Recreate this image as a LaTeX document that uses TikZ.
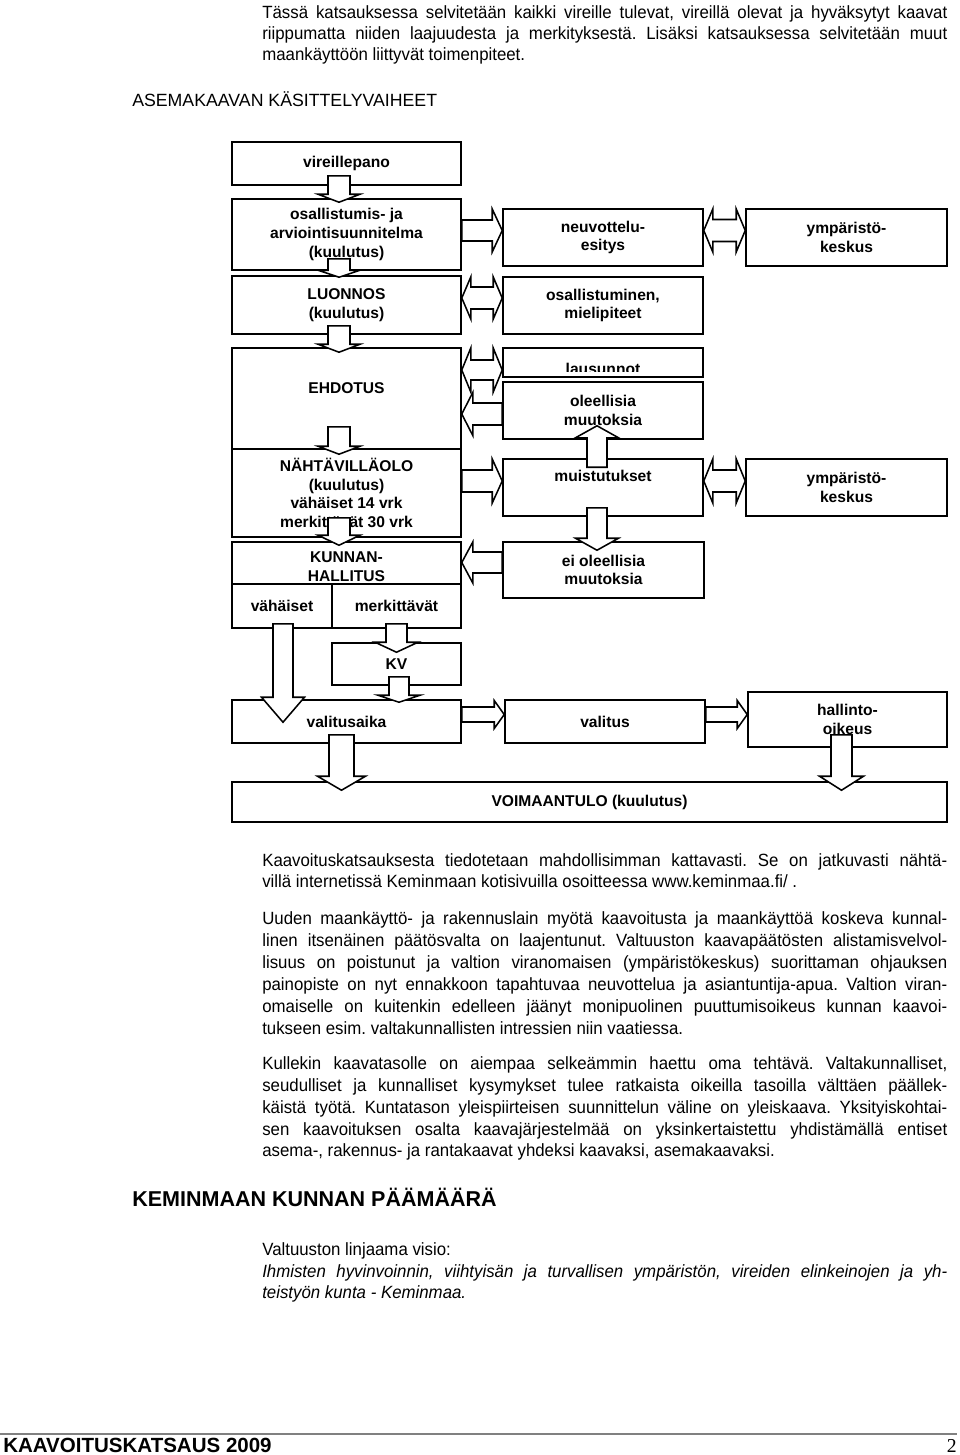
\documentclass[tikz,border=0pt]{standalone}
\usepackage{fontspec}
\setmainfont{Liberation Sans}
\newfontfamily\bodyfont[FakeStretch=0.95]{Liberation Sans}
\newfontfamily\numfont{Liberation Serif}
\usepackage{tikz}
\usetikzlibrary{positioning}
\usetikzlibrary{calc}

% 1 unit = 1 px of the page image
\def\pxu{0.711319}
% chart box: x1, y1, x2, y2, name, text
\newcommand{\chartbox}[6]{%
  \node[box, minimum width={(#3-#1)*0.25mm}, minimum height={(#4-#2)*0.25mm}]
    (#5) at ({(#1+#3)/2},{(#2+#4)/2}) {#6};}
% block arrow: start, tip, shaft half width, head half width, head length
\newcommand{\blockarrow}[5]{%
  \draw[blk] let \p1=#1, \p2=#2,
      \n1={veclen(\x2-\x1,\y2-\y1)},
      \n2={(\x2-\x1)/\n1}, \n3={(\y2-\y1)/\n1},
      \n4={#3*\pxu}, \n5={#4*\pxu}, \n6={#5*\pxu} in
    ({\x1-\n3*\n4},{\y1+\n2*\n4})
    -- ({\x2-\n2*\n6-\n3*\n4},{\y2-\n3*\n6+\n2*\n4})
    -- ({\x2-\n2*\n6-\n3*\n5},{\y2-\n3*\n6+\n2*\n5})
    -- (\p2)
    -- ({\x2-\n2*\n6+\n3*\n5},{\y2-\n3*\n6-\n2*\n5})
    -- ({\x2-\n2*\n6+\n3*\n4},{\y2-\n3*\n6-\n2*\n4})
    -- ({\x1+\n3*\n4},{\y1-\n2*\n4}) -- cycle;}
% double block arrow: tip, tip, shaft half width, head half width, head length
\newcommand{\dblarrow}[5]{%
  \draw[blk] let \p1=#1, \p2=#2,
      \n1={veclen(\x2-\x1,\y2-\y1)},
      \n2={(\x2-\x1)/\n1}, \n3={(\y2-\y1)/\n1},
      \n4={#3*\pxu}, \n5={#4*\pxu}, \n6={#5*\pxu} in
    (\p1)
    -- ({\x1+\n2*\n6-\n3*\n5},{\y1+\n3*\n6+\n2*\n5})
    -- ({\x1+\n2*\n6-\n3*\n4},{\y1+\n3*\n6+\n2*\n4})
    -- ({\x2-\n2*\n6-\n3*\n4},{\y2-\n3*\n6+\n2*\n4})
    -- ({\x2-\n2*\n6-\n3*\n5},{\y2-\n3*\n6+\n2*\n5})
    -- (\p2)
    -- ({\x2-\n2*\n6+\n3*\n5},{\y2-\n3*\n6-\n2*\n5})
    -- ({\x2-\n2*\n6+\n3*\n4},{\y2-\n3*\n6-\n2*\n4})
    -- ({\x1+\n2*\n6+\n3*\n4},{\y1+\n3*\n6-\n2*\n4})
    -- ({\x1+\n2*\n6+\n3*\n5},{\y1+\n3*\n6-\n2*\n5})
    -- cycle;}

\frenchspacing
\begin{document}
\begin{tikzpicture}[
        x=0.25mm, y=-0.25mm,
        box/.style = {draw, line width=1.1pt, fill=white, inner sep=0pt, align=center,
            font=\bfseries\fontsize{11.1}{13.3}\selectfont},
        boxtxt/.style = {inner sep=0pt, align=center, font=\bfseries\fontsize{11.1}{13.3}\selectfont},
        blk/.style = {draw, line width=1.1pt, fill=white, line join=miter},
        bodytxt/.style = {anchor=base west, inner sep=0pt, font=\bodyfont\fontsize{12.6}{15}\selectfont},
        headtxt/.style = {anchor=base west, inner sep=0pt}
    ]
    \useasboundingbox (0,0) rectangle (960,1455);

    % text above and below the chart
    \foreach \yy/\linetext in {
        18/{Tässä katsauksessa selvitetään kaikki vireille tulevat, vireillä olevat ja hyväksytyt kaavat},
        39/{riippumatta niiden laajuudesta ja merkityksestä. Lisäksi katsauksessa selvitetään muut},
        866/{Kaavoituskatsauksesta tiedotetaan mahdollisimman kattavasti. Se on jatkuvasti nähtä-},
        924/{Uuden maankäyttö- ja rakennuslain myötä kaavoitusta ja maankäyttöä koskeva kunnal-},
        946/{linen itsenäinen päätösvalta on laajentunut. Valtuuston kaavapäätösten alistamisvelvol-},
        968/{lisuus on poistunut ja valtion viranomaisen (ympäristökeskus) suorittaman ohjauksen},
        990/{painopiste on nyt ennakkoon tapahtuvaa neuvottelua ja asiantuntija-apua. Valtion viran-},
        1012/{omaiselle on kuitenkin edelleen jäänyt monipuolinen puuttumisoikeus kunnan kaavoi-},
        1069/{Kullekin kaavatasolle on aiempaa selkeämmin haettu oma tehtävä. Valtakunnalliset,},
        1091/{seudulliset ja kunnalliset kysymykset tulee ratkaista oikeilla tasoilla välttäen päällek-},
        1113/{käistä työtä. Kuntatason yleispiirteisen suunnittelun väline on yleiskaava. Yksityiskohtai-},
        1135/{sen kaavoituksen osalta kaavajärjestelmää on yksinkertaistettu yhdistämällä entiset},
        1277/{\itshape Ihmisten hyvinvoinnin, viihtyisän ja turvallisen ympäristön, vireiden elinkeinojen ja yh-}%
    }
        \node[bodytxt] (j\yy) at (262,\yy) {\makebox[171.25mm][s]{\linetext}};
    \foreach \yy/\linetext in {
        60/{maankäyttöön liittyvät toimenpiteet.},
        887/{villä internetissä Keminmaan kotisivuilla osoitteessa www.keminmaa.fi/ .},
        1034/{tukseen esim. valtakunnallisten intressien niin vaatiessa.},
        1156/{asema-, rakennus- ja rantakaavat yhdeksi kaavaksi, asemakaavaksi.},
        1255/{Valtuuston linjaama visio:},
        1298/{\itshape teistyön kunta - Keminmaa.}%
    }
        \node[bodytxt] (e\yy) at (262,\yy) {\linetext};

    \node[headtxt, font=\fontsize{12.6}{15}\selectfont] (title) at (132,106.5) {ASEMAKAAVAN KÄSITTELYVAIHEET};
    \node[headtxt, font=\bfseries\fontsize{15.3}{18}\selectfont] (goal) at (132,1206) {KEMINMAAN KUNNAN PÄÄMÄÄRÄ};

    % left column
    \chartbox{232}{142}{461}{185}{vire}{vireillepano}
    \chartbox{232}{199}{461}{270}{osal}{osallistumis- ja\\arviointisuunnitelma\\(kuulutus)}
    \chartbox{232}{276}{461}{334}{luon}{LUONNOS\\(kuulutus)}
    \chartbox{232}{348}{461}{449}{ehd}{}
    \node[boxtxt] (ehdt) at (346.5,388) {EHDOTUS};
    \chartbox{232}{449}{461}{537}{nah}{NÄHTÄVILLÄOLO\\(kuulutus)\\vähäiset 14 vrk\\merkittävät 30 vrk}
    \chartbox{232}{542}{461}{584}{kh}{}
    \node[boxtxt] (kht) at (346.5,567) {KUNNAN-\\HALLITUS};
    \chartbox{232}{584}{332}{628}{vah}{vähäiset}
    \chartbox{332}{584}{461}{628}{merk}{merkittävät}
    \chartbox{332}{643}{461}{685}{kv}{KV}
    \chartbox{232}{700}{461}{743}{vaika}{valitusaika}
    \chartbox{505}{700}{705}{743}{val}{valitus}
    \chartbox{748}{692}{947}{747}{hoik}{hallinto-\\oikeus}
    \chartbox{232}{782}{947}{822}{voim}{VOIMAANTULO (kuulutus)}

    % right columns
    \chartbox{503}{209}{703}{266}{neuv}{neuvottelu-\\esitys}
    \chartbox{746}{209}{947}{266}{ymp1}{ympäristö-\\keskus}
    \chartbox{503}{277}{703}{334}{osm}{osallistuminen,\\mielipiteet}
    \chartbox{503}{348}{703}{377}{laus}{}
    \begin{scope}
        \clip (505,350) rectangle (701,371);
        \node[boxtxt, anchor=base] (laust) at (603,374) {lausunnot};
    \end{scope}
    \chartbox{503}{382}{703}{439}{ole}{oleellisia\\muutoksia}
    \chartbox{503}{459}{703}{516}{mui}{}
    \node[boxtxt] (muit) at (603,476) {muistutukset};
    \chartbox{746}{459}{947}{516}{ymp2}{ympäristö-\\keskus}
    \chartbox{503}{542}{704}{598}{eiole}{ei oleellisia\\muutoksia}

    % block arrows, down the left column
    \blockarrow{($(vire.south -| 339,0)+(0,-10)$)}{($(osal.north -| 339,0)+(0,4)$)}{11}{21}{8}
    \blockarrow{($(osal.south -| 339,0)+(0,-12)$)}{($(luon.north -| 339,0)+(0,2)$)}{11}{21}{7}
    \blockarrow{($(luon.south -| 339,0)+(0,-9)$)}{($(ehd.north -| 339,0)+(0,5)$)}{11}{21}{8}
    \blockarrow{($(ehd.south -| 339,0)+(0,-23)$)}{($(nah.north -| 339,0)+(0,6)$)}{11}{21}{8}
    \blockarrow{($(nah.south -| 339,0)+(0,-20)$)}{($(kh.north -| 339,0)+(0,4)$)}{11}{21}{10}
    \blockarrow{($(merk.south -| 396.5,0)+(0,-5)$)}{($(kv.north -| 396.5,0)+(0,10)$)}{10.5}{21.5}{10}
    \blockarrow{($(vah.south -| 283,0)+(0,-5)$)}{($(vaika.north -| 283,0)+(0,23)$)}{10}{21.5}{25}
    \blockarrow{($(kv.south -| 399,0)+(0,-9)$)}{($(vaika.north -| 399,0)+(0,3)$)}{10}{21}{7}
    \blockarrow{($(vaika.south -| 341.5,0)+(0,-9)$)}{($(voim.north -| 341.5,0)+(0,9)$)}{12.5}{24}{14}
    \blockarrow{($(hoik.south -| 841.5,0)+(0,-13)$)}{($(voim.north -| 841.5,0)+(0,9)$)}{10.5}{22}{14}

    % sideways
    \blockarrow{(osal.east |- 0,230.5)}{(neuv.west |- 0,230.5)}{10.5}{21.5}{10}
    \blockarrow{(nah.east |- 0,481)}{(mui.west |- 0,481)}{11}{22}{10}
    \blockarrow{(ole.west |- 0,414)}{(ehd.east |- 0,414)}{11}{21.5}{11}
    \blockarrow{(eiole.west |- 0,562.5)}{(kh.east |- 0,562.5)}{10.5}{20.5}{11}
    \blockarrow{(vaika.east |- 0,714.5)}{(val.west |- 0,714.5)}{7.5}{14}{10}
    \blockarrow{(val.east |- 0,714.5)}{(hoik.west |- 0,714.5)}{7.5}{14}{10}
    \dblarrow{(luon.east |- 0,298)}{(osm.west |- 0,298)}{11}{21}{9}
    \dblarrow{(ehd.east |- 0,370)}{(laus.west |- 0,370)}{10}{22}{9}
    \dblarrow{(neuv.east |- 0,230.5)}{(ymp1.west |- 0,230.5)}{11}{21.5}{9}
    \dblarrow{(mui.east |- 0,481)}{(ymp2.west |- 0,481)}{11}{22}{9}

    % from muistutukset
    \blockarrow{($(mui.north -| 597,0)+(0,9)$)}{($(ole.south -| 597,0)+(0,-14)$)}{10}{21.5}{12}
    \blockarrow{($(mui.south -| 597,0)+(0,-9)$)}{($(eiole.north -| 597,0)+(0,9)$)}{10}{21.5}{12}

    % footer
    \draw[black!50, line width=2.1pt] (0,1434) -- (957,1434);
    \node[headtxt, font=\bfseries\fontsize{14.6}{17}\selectfont] (foot) at (3,1452) {KAAVOITUSKATSAUS 2009};
    \node[anchor=base east, inner sep=0pt, font=\numfont\fontsize{14}{16}\selectfont] (pnum) at (957,1452) {2};
\end{tikzpicture}
\end{document}
